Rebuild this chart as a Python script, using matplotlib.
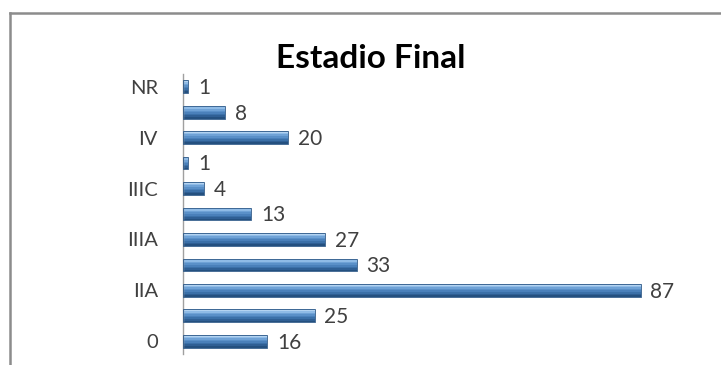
import matplotlib
matplotlib.use("Agg")
import matplotlib.pyplot as plt
from matplotlib.lines import Line2D
import numpy as np

plt.rcParams['font.family'] = ['Lato', 'DejaVu Sans']

categories = ["0", "I", "IIA", "IIB", "IIIA", "IIIB", "IIIC", "IIID", "IV", "IVB", "NR"]
values = [16, 25, 87, 33, 27, 13, 4, 1, 20, 8, 1]
title = "Estadio Final"

fig = plt.figure(figsize=(7.21, 3.65), dpi=100)
# outer frame (left and top borders)
fig.add_artist(Line2D([10/721, 10/721], [0, 1 - 13/365], color="#8c8c8c", lw=1.8))
fig.add_artist(Line2D([10/721, 1], [1 - 13/365, 1 - 13/365], color="#8c8c8c", lw=1.8))

ax = fig.add_axes([183/721, 11/365, 526/721, 280/365])
y = np.arange(len(categories))
h = 0.5
# cylindrical gradient look: stacked slices from bottom (dark) to top (light)
grad = ["#24507f", "#2f5f94", "#3b70a8", "#4a80ba", "#5a90c8", "#6fa2d6", "#8fbbe6", "#b3d3f1"]
n = len(grad)
for i, c in enumerate(grad):
    ax.barh(y - h/2 + (i + 0.5) * h / n, values, height=h / n, color=c, linewidth=0, zorder=2)
ax.barh(y, values, height=h, facecolor="none", edgecolor="#2a5686", linewidth=0.6, zorder=3)

for yi, v in zip(y, values):
    ax.annotate(str(v), (v, yi), xytext=(7, -1), textcoords="offset points",
                va="center", ha="left", fontsize=15, color="#404040")

ax.set_xlim(0, 100)
ax.set_ylim(-0.5, len(categories) - 0.5)
ax.set_yticks(y)
ax.set_yticklabels([c if i % 2 == 0 else "" for i, c in enumerate(categories)],
                   fontsize=14.5, color="#404040")
ax.tick_params(axis="y", length=0, pad=18)
ax.set_xticks([])
for s in ["top", "right", "bottom"]:
    ax.spines[s].set_visible(False)
ax.spines["left"].set_color("#a0a0a0")
ax.spines["left"].set_linewidth(1.0)

fig.text(371/721, 1 - 59/365, title, ha="center", va="center",
         fontsize=24, fontweight="bold", color="#000000")

fig.savefig("out.png", dpi=100)
